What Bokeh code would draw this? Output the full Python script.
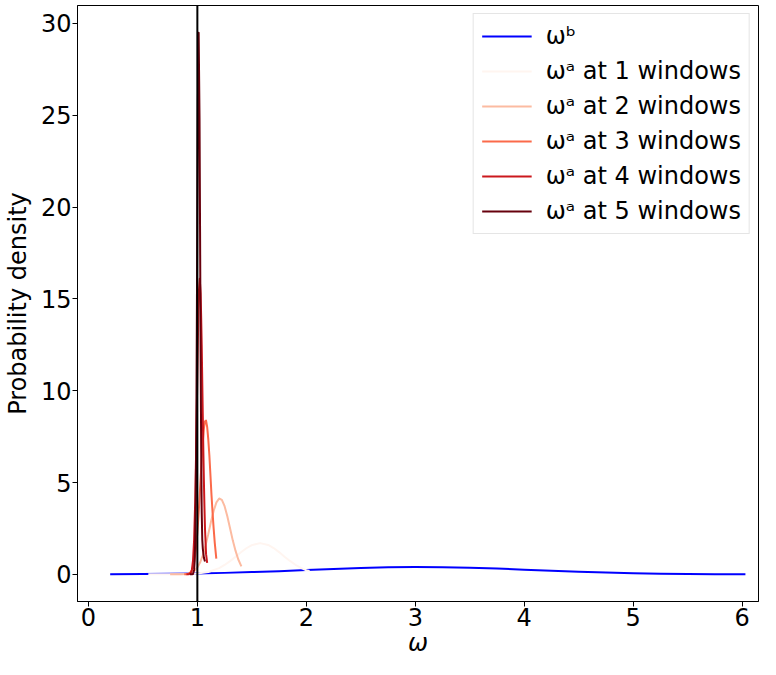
from bokeh.plotting import figure
from bokeh.models import Span, Legend, LegendItem, Range1d
from bokeh.embed import file_html
from bokeh.resources import INLINE

# ---- data ----
wb_x = [0.2, 0.5, 0.75, 1.0, 1.25, 1.5, 1.75, 2.0, 2.25, 2.5, 2.75, 3.0, 3.25,
        3.5, 3.75, 4.0, 4.25, 4.5, 4.75, 5.0, 5.25, 5.5, 5.75, 6.03]
wb_y = [0.007, 0.016, 0.028, 0.049, 0.079, 0.12, 0.172, 0.23, 0.29, 0.344, 0.382,
        0.4, 0.392, 0.362, 0.313, 0.255, 0.195, 0.14, 0.094, 0.06, 0.036, 0.02,
        0.0104, 0.0047]

w1_x = [0.55, 0.7, 0.8, 0.9, 1.0, 1.1, 1.2, 1.25, 1.3, 1.35, 1.4, 1.45, 1.5,
        1.576, 1.65, 1.7, 1.75, 1.8, 1.85, 1.9, 1.95, 2.0, 2.03]
w1_y = [0.0, 0.0, 0.002, 0.01, 0.04, 0.13, 0.34, 0.51, 0.72, 0.95, 1.2, 1.42, 1.59,
        1.7, 1.6, 1.43, 1.21, 0.96, 0.73, 0.52, 0.35, 0.22, 0.18]

w2_x = [0.75, 0.8, 0.85, 0.9, 0.925, 0.95, 0.975, 1.0, 1.025, 1.05, 1.075, 1.1,
        1.125, 1.15, 1.175, 1.2, 1.225, 1.25, 1.275, 1.3, 1.325, 1.35, 1.375, 1.404]
w2_y = [0.0, 0.0, 0.003, 0.02, 0.047, 0.10, 0.20, 0.375, 0.64, 1.04, 1.57, 2.18,
        2.86, 3.46, 3.92, 4.13, 4.06, 3.71, 3.16, 2.51, 1.85, 1.29, 0.82, 0.43]

w3_x = [0.88, 0.9, 0.92, 0.94, 0.95, 0.96, 0.97, 0.98, 0.99, 1.0, 1.01, 1.02,
        1.03, 1.04, 1.05, 1.06, 1.07, 1.08, 1.09, 1.1, 1.11, 1.12, 1.13, 1.14,
        1.15, 1.16, 1.174]
w3_y = [0.0, 0.008, 0.03, 0.13, 0.23, 0.40, 0.66, 1.05, 1.58, 2.27, 3.15, 4.13,
        5.2, 6.26, 7.23, 7.93, 8.33, 8.37, 8.03, 7.38, 6.5, 5.41, 4.3, 3.33, 2.46,
        1.7, 0.85]

w4_x = [0.90, 0.92, 0.94, 0.95, 0.96, 0.97, 0.98, 0.99, 0.995, 1.0, 1.005, 1.01,
        1.015, 1.022, 1.03, 1.035, 1.04, 1.045, 1.05, 1.055, 1.06, 1.065, 1.07,
        1.08, 1.09]
w4_y = [0.0, 0.004, 0.074, 0.25, 0.74, 1.85, 3.93, 7.1, 8.99, 10.9, 12.8, 14.4,
        15.5, 16.1, 15.3, 14.0, 12.5, 10.5, 8.6, 6.7, 5.1, 3.67, 2.5, 1.1, 0.62]

w5_x = [0.93, 0.95, 0.96, 0.97, 0.975, 0.98, 0.985, 0.99, 0.995, 1.0, 1.005,
        1.012, 1.02, 1.025, 1.03, 1.035, 1.04, 1.045, 1.05, 1.06, 1.07]
w5_y = [0.0, 0.0, 0.018, 0.24, 0.69, 1.78, 3.99, 7.8, 13.4, 19.9, 25.8, 29.5,
        24.8, 18.6, 12.1, 6.9, 3.4, 1.9, 1.4, 0.9, 0.7]

labels = ["ωᵇ", "ωᵃ at 1 windows", "ωᵃ at 2 windows", "ωᵃ at 3 windows",
          "ωᵃ at 4 windows", "ωᵃ at 5 windows"]
colors = ["#0000ff", "#fff5f0", "#fcbba1", "#fb6a4a", "#cb181d", "#67000d"]
x_ticks = [0, 1, 2, 3, 4, 5, 6]
y_ticks = [0, 5, 10, 15, 20, 25, 30]

FONT = "DejaVu Sans"
FS = "24px"

p = figure(width=760, height=659, output_backend="svg", toolbar_location=None,
           x_range=Range1d(-0.1, 6.15), y_range=Range1d(-1.48, 30.98),
           min_border_left=72, min_border_right=2, min_border_top=5,
           min_border_bottom=40)

series = [(wb_x, wb_y), (w1_x, w1_y), (w2_x, w2_y), (w3_x, w3_y), (w4_x, w4_y),
          (w5_x, w5_y)]
items = []
for (xs, ys), c, lab in zip(series, colors, labels):
    r = p.line(xs, ys, line_color=c, line_width=2, line_join="round")
    items.append(LegendItem(label=lab, renderers=[r]))

p.add_layout(Span(location=1, dimension="height", line_color="black", line_width=2))

p.xgrid.visible = False
p.ygrid.visible = False
p.outline_line_color = "black"
p.outline_line_width = 1
p.background_fill_color = "white"
p.border_fill_color = "white"

p.xaxis.ticker = x_ticks
p.yaxis.ticker = y_ticks
for ax in (p.xaxis[0], p.yaxis[0]):
    ax.major_label_text_font = FONT
    ax.major_label_text_font_size = FS
    ax.major_label_text_color = "black"
    ax.axis_label_text_font = FONT
    ax.axis_label_text_font_size = FS
    ax.axis_label_text_color = "black"
    ax.minor_tick_line_color = None
    ax.major_tick_in = 0
    ax.major_tick_out = 5
    ax.major_tick_line_color = "black"
    ax.axis_line_color = "black"
    ax.major_label_standoff = 1
p.xaxis.axis_label = "ω"
p.xaxis.axis_label_text_font_style = "italic"
p.yaxis.axis_label = "Probability density"
p.yaxis.axis_label_text_font_style = "normal"
p.xaxis.axis_label_standoff = 0
p.yaxis.axis_label_standoff = 6

legend = Legend(items=items, location="top_right")
legend.label_text_font = FONT
legend.label_text_font_size = FS
legend.label_text_color = "black"
legend.glyph_width = 50
legend.glyph_height = 28
legend.label_height = 28
legend.label_standoff = 14
legend.spacing = 7
legend.padding = 8
legend.margin = 8
legend.border_line_color = "#cccccc"
legend.border_line_width = 1
legend.background_fill_alpha = 0.8
p.add_layout(legend)

open("out.html", "w").write(file_html(p, INLINE))
